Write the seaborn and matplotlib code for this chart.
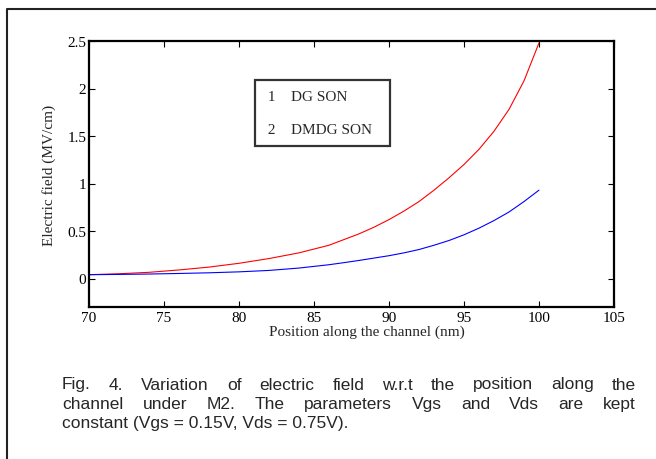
#Import packages
import numpy as np
import pandas as pd
import matplotlib
matplotlib.use("Agg")
import matplotlib.pyplot as plt
import seaborn as sns
from matplotlib.lines import Line2D

#Data
position = [70, 72, 74, 76, 78, 80, 82, 84, 86, 87, 88, 89, 90, 91, 92, 93, 94, 95, 96, 97, 98, 99, 100]
dg_son = [0.04, 0.05, 0.065, 0.09, 0.12, 0.16, 0.21, 0.27, 0.35, 0.41, 0.47, 0.54, 0.62, 0.71,
          0.81, 0.93, 1.06, 1.20, 1.36, 1.55, 1.78, 2.08, 2.48]
dmdg_son = [0.04, 0.043, 0.047, 0.053, 0.06, 0.07, 0.085, 0.11, 0.145, 0.167, 0.19, 0.215, 0.24,
            0.27, 0.305, 0.35, 0.40, 0.46, 0.53, 0.61, 0.70, 0.81, 0.93]
series_names = ["DG SON", "DMDG SON"]
x_ticks = [70, 75, 80, 85, 90, 95, 100, 105]
y_ticks = [0, 0.5, 1, 1.5, 2, 2.5]
y_tick_labels = ["0", "0.5", "1", "1.5", "2", "2.5"]
caption_lines = [
    "Fig. 4. Variation of electric field w.r.t the position along the",
    "channel under M2. The parameters Vgs and Vds are kept",
    "constant (Vgs = 0.15V, Vds = 0.75V).",
]

#Long format table for seaborn
df = pd.DataFrame({
    "Position": position * 2,
    "Field": dg_son + dmdg_son,
    "Device": [series_names[0]] * len(position) + [series_names[1]] * len(position),
})

#Style
sns.set_style("ticks")
plt.rcParams["font.family"] = ["Liberation Serif", "DejaVu Serif"]

fig = plt.figure(figsize=(6.56, 4.60), dpi=100)
ax = fig.add_axes([89 / 656, 1 - 308 / 460, 525 / 656, 266 / 460])

sns.lineplot(ax=ax, data=df, x="Position", y="Field", hue="Device",
             palette=["#ff0000", "#0000ff"], linewidth=0.8, legend=False)

ax.set_xlim(70, 105)
ax.set_ylim(-0.3, 2.5)
ax.set_xticks(x_ticks)
ax.set_yticks(y_ticks)
ax.set_yticklabels(y_tick_labels)
ax.tick_params(direction="in", length=4, width=0.8, labelsize=11, pad=2,
               top=True, right=True, colors="black")
ax.tick_params(axis="x", pad=3)
for s in ax.spines.values():
    s.set_linewidth(1.6)
    s.set_color("black")

ax.set_xlabel("Position along the channel (nm)", fontsize=11)
ax.set_ylabel("Electric field (MV/cm)", fontsize=11)
ax.xaxis.set_label_coords(0.53, -0.066)
ax.yaxis.set_label_coords(-0.063, 0.5)

#Legend with numbers instead of line samples
handles = [Line2D([], [], color="none") for _ in series_names]
labels = [" " + str(i + 1) + "    " + n + "  " for i, n in enumerate(series_names)]
leg = ax.legend(handles, labels, loc="upper left", bbox_to_anchor=(0.316, 0.855),
                borderaxespad=0, handlelength=0, handletextpad=0, fontsize=11,
                labelspacing=1.3, fancybox=False, frameon=True, borderpad=0.62)
leg.get_frame().set_edgecolor("black")
leg.get_frame().set_linewidth(1.6)

#Outer frame (left and top edges)
fig.add_artist(Line2D([7 / 656, 7 / 656, 1], [0, 1 - 10 / 460, 1 - 10 / 460],
                      transform=fig.transFigure, color="#222222", linewidth=1.5))

#Justified caption
fig.canvas.draw()
renderer = fig.canvas.get_renderer()
x_left, x_right = 62 / 656, 636 / 656
line_y = [385, 405, 424]
for i, line in enumerate(caption_lines):
    y = 1 - line_y[i] / 460
    if i == len(caption_lines) - 1:
        fig.text(x_left, y, line, family="Liberation Sans", fontsize=12.5, va="center")
        continue
    words = line.split(" ")
    texts = [fig.text(x_left, y, w, family="Liberation Sans", fontsize=12.5, va="center")
             for w in words]
    widths = [t.get_window_extent(renderer).width / fig.bbox.width for t in texts]
    gap = (x_right - x_left - sum(widths)) / (len(words) - 1)
    x = x_left
    for t, w in zip(texts, widths):
        t.set_x(x)
        x += w + gap

fig.savefig("out.png", dpi=100)
